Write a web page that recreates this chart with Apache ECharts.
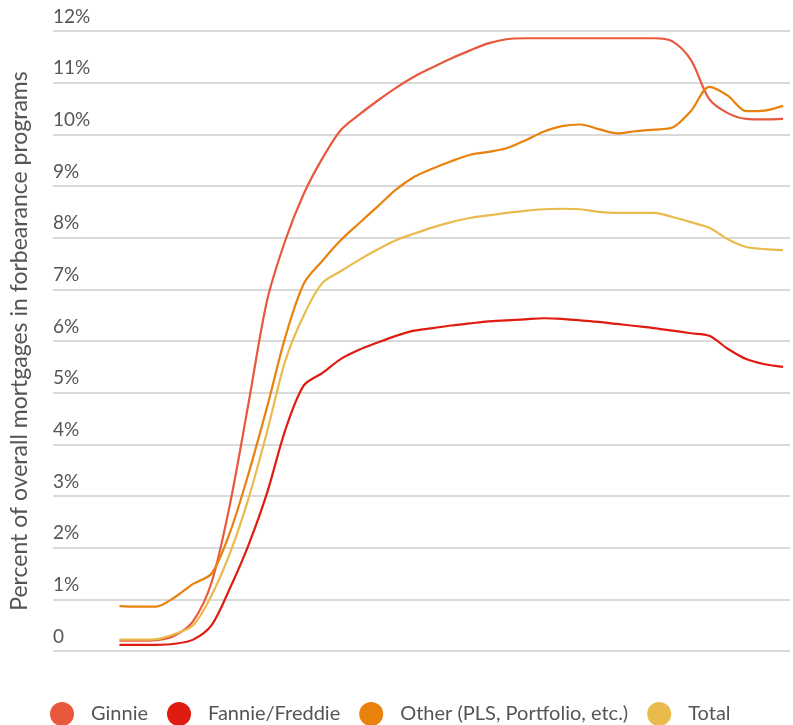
<!DOCTYPE html>
<html>
<head>
<meta charset="utf-8">
<script src="https://cdn.jsdelivr.net/npm/echarts@6/dist/echarts.min.js"></script>
<style>
html,body{margin:0;padding:0;background:#fff;}
#chart{width:793px;height:725px;}
</style>
</head>
<body>
<div id="chart"></div>
<script>
// Weekly observation index (x positions along the time axis)
const weeks = Array.from({length: 37}, (_, i) => i);

const seriesNames = ['Ginnie', 'Fannie/Freddie', 'Other (PLS, Portfolio, etc.)', 'Total'];

const ginnie = [0.20,0.20,0.21,0.30,0.58,1.33,2.85,4.79,6.77,7.95,8.85,9.53,10.08,10.38,10.65,10.90,11.12,11.30,11.47,11.62,11.76,11.84,11.86,11.86,11.86,11.86,11.86,11.86,11.86,11.86,11.80,11.44,10.68,10.41,10.30,10.29,10.30];
const fannie = [0.12,0.12,0.12,0.14,0.22,0.50,1.22,2.05,3.05,4.28,5.14,5.38,5.65,5.83,5.97,6.10,6.20,6.25,6.30,6.34,6.38,6.40,6.42,6.44,6.43,6.40,6.37,6.33,6.29,6.25,6.20,6.15,6.10,5.85,5.65,5.55,5.50];
const other  = [0.87,0.86,0.86,1.04,1.30,1.50,2.30,3.43,4.71,6.08,7.11,7.55,7.95,8.28,8.60,8.93,9.18,9.34,9.48,9.60,9.66,9.73,9.88,10.05,10.16,10.19,10.10,10.02,10.06,10.09,10.13,10.45,10.92,10.75,10.45,10.46,10.55];
const total  = [0.22,0.22,0.23,0.33,0.50,1.08,1.90,2.95,4.23,5.62,6.50,7.12,7.35,7.57,7.77,7.95,8.08,8.20,8.30,8.38,8.43,8.48,8.52,8.55,8.56,8.55,8.50,8.48,8.48,8.48,8.40,8.30,8.19,7.97,7.82,7.78,7.76];

const yTicks = [0,1,2,3,4,5,6,7,8,9,10,11,12];

const colors = ['#e8583c', '#e01b10', '#e8820c', '#e9bb4d'];
const allValues = [ginnie, fannie, other, total];

const FONT = 'Lato, "Liberation Sans", sans-serif';

const chart = echarts.init(document.getElementById('chart'), null, {renderer: 'canvas'});
chart.setOption({
  animation: false,
  backgroundColor: '#ffffff',
  color: colors,
  grid: {left: 47, right: 3, top: 31, bottom: 74, containLabel: false},
  xAxis: {
    type: 'value',
    min: -3.605,
    max: 36.377,
    show: false
  },
  yAxis: {
    type: 'value',
    min: yTicks[0],
    max: yTicks[yTicks.length - 1],
    interval: 1,
    name: 'Percent of overall mortgages in forbearance programs',
    nameLocation: 'middle',
    nameGap: 22,
    nameRotate: 90,
    nameTextStyle: {fontFamily: FONT, fontSize: 23, color: '#555555'},
    axisLine: {show: false},
    axisTick: {show: false},
    splitLine: {lineStyle: {color: '#cccccc', width: 1.5}},
    axisLabel: {
      inside: true,
      margin: 0,
      verticalAlign: 'bottom',
      padding: [0, 0, 5, 0],
      fontFamily: FONT,
      fontSize: 19,
      color: '#555555',
      formatter: v => v === 0 ? '0' : v + '%'
    }
  },
  legend: {
    left: 45,
    top: 697,
    icon: 'circle',
    itemWidth: 24,
    itemHeight: 24,
    itemGap: 19,
    textStyle: {fontFamily: FONT, fontSize: 20, color: '#555555', padding: [0, 0, 0, 12]},
    data: seriesNames
  },
  series: seriesNames.map((name, k) => ({
    name: name,
    type: 'line',
    smooth: 0.3,
    showSymbol: false,
    symbol: 'none',
    lineStyle: {width: 2.2, color: colors[k]},
    itemStyle: {color: colors[k]},
    data: weeks.map((w, i) => [w, allValues[k][i]])
  }))
});
</script>
</body>
</html>
